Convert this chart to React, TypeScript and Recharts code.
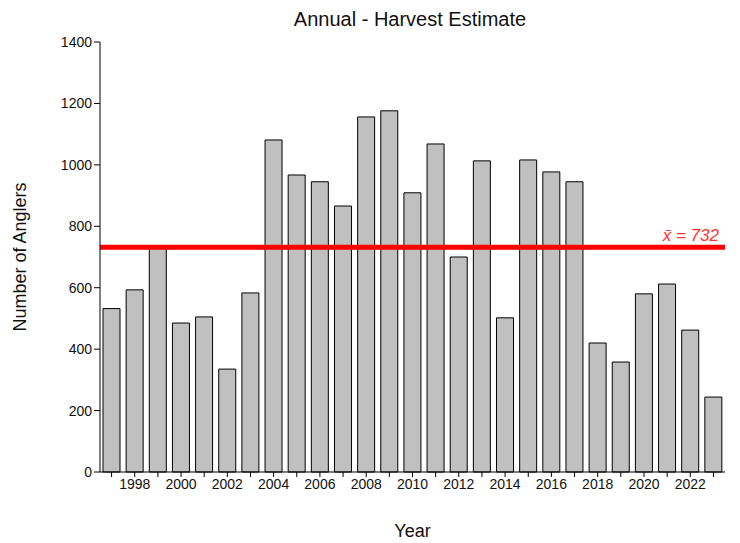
import { BarChart, Bar, XAxis, YAxis, ReferenceLine, Label } from "recharts";

const years = [
	1997, 1998, 1999, 2000, 2001, 2002, 2003, 2004, 2005, 2006, 2007, 2008, 2009, 2010,
	2011, 2012, 2013, 2014, 2015, 2016, 2017, 2018, 2019, 2020, 2021, 2022, 2023,
];
const anglers = [
	532, 593, 735, 485, 505, 335, 583, 1081, 967, 945, 866, 1156, 1176, 909,
	1068, 700, 1013, 502, 1016, 977, 945, 420, 358, 580, 612, 462, 244,
];
const yTicks = [0, 200, 400, 600, 800, 1000, 1200, 1400];
const meanValue = 732;

const data = years.map((year, i) => ({ year, value: anglers[i] }));

const font = "'Liberation Sans', Arial, sans-serif";

export default function App() {
	return (
		<div style={{ position: "absolute", left: 0, top: 0, width: 740, height: 543, background: "#fff", fontFamily: font }}>
			<div style={{ position: "absolute", top: 8, width: 740, textAlign: "center", fontSize: 20, color: "#111" }}>
				<span style={{ marginLeft: 80 }}>Annual - Harvest Estimate</span>
			</div>
			<BarChart
				width={740}
				height={543}
				data={data}
				barCategoryGap={3}
				margin={{ top: 42, right: 15, bottom: 41, left: 0 }}
			>
				<XAxis
					dataKey="year"
					interval={0}
					tickFormatter={(v: number) => (v % 2 === 0 ? String(v) : "")}
					tick={{ fill: "#111", fontSize: 14, fontFamily: font }}
					axisLine={{ stroke: "#000" }}
					tickLine={{ stroke: "#000" }}
					tickSize={5}
				>
					<Label value="Year" position="bottom" offset={22} style={{ fontSize: 18, fill: "#111", fontFamily: font }} />
				</XAxis>
				<YAxis
					width={100}
					domain={[0, 1400]}
					ticks={yTicks}
					interval={0}
					tick={{ fill: "#111", fontSize: 14, fontFamily: font }}
					axisLine={{ stroke: "#000" }}
					tickLine={{ stroke: "#000" }}
					tickSize={6}
				>
					<Label value="Number of Anglers" angle={-90} position="insideLeft" offset={20} style={{ fontSize: 18, fill: "#111", fontFamily: font, textAnchor: "middle" }} />
				</YAxis>
				<Bar dataKey="value" fill="#c0c0c0" stroke="#000" strokeWidth={1} isAnimationActive={false} />
				<ReferenceLine y={meanValue} stroke="#ff0000" strokeWidth={5}>
					<Label value="x̄ = 732" position="insideBottomRight" offset={6} style={{ fill: "#ff3030", fontStyle: "italic", fontSize: 17, fontFamily: font }} />
				</ReferenceLine>
			</BarChart>
		</div>
	);
}
